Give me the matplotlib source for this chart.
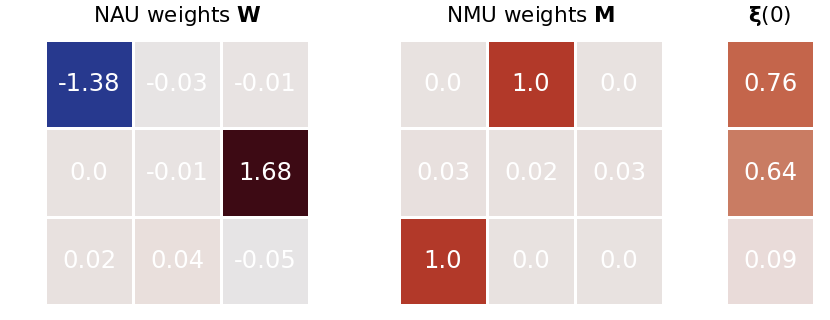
import numpy as np
import matplotlib
matplotlib.use("Agg")
import matplotlib.pyplot as plt
from matplotlib.colors import LinearSegmentedColormap
import seaborn as sns

# values
nau_W = [[-1.38, -0.03, -0.01],
         [0.0, -0.01, 1.68],
         [0.02, 0.04, -0.05]]
nmu_M = [[0.0, 1.0, 0.0],
         [0.03, 0.02, 0.03],
         [1.0, 0.0, 0.0]]
xi_0 = [[0.76], [0.64], [0.09]]

titles = [r"NAU weights $\mathbf{W}$", r"NMU weights $\mathbf{M}$", r"$\mathbf{\xi}$(0)"]

# diverging map similar to cmocean "balance" (blue - warm grey - red - maroon)
cmap = LinearSegmentedColormap.from_list("balance_like", [
    (0.0, "#181c43"),
    (0.09, "#283a91"),
    (0.30, "#6d8fc0"),
    (0.485, "#e6e4e5"),
    (0.5, "#e8e3e1"),
    (0.527, "#e9dbd8"),
    (0.69, "#c97c63"),
    (0.726, "#c4654b"),
    (0.798, "#b33a29"),
    (0.90, "#7e1a1e"),
    (1.0, "#3d0a14"),
])
vmax = 1.68

fig = plt.figure(figsize=(8.3, 3.2), dpi=100)
axes = [fig.add_axes([45 / 830, 15 / 320, 264 / 830, 265 / 320]),
        fig.add_axes([399 / 830, 15 / 320, 264 / 830, 265 / 320]),
        fig.add_axes([726 / 830, 15 / 320, 88 / 830, 265 / 320])]

for ax, data, title in zip(axes, [nau_W, nmu_M, xi_0], titles):
    arr = np.array(data)
    labels = np.array([[str(v) for v in row] for row in data])
    sns.heatmap(arr, ax=ax, cmap=cmap, vmin=-vmax, vmax=vmax,
                annot=labels, fmt="", cbar=False, linewidths=2, linecolor="white",
                annot_kws={"color": "white", "fontsize": 17.5},
                xticklabels=False, yticklabels=False, square=False)
    ax.set_title(title, fontsize=15.5, pad=13)

fig.savefig("out.png", dpi=100)
